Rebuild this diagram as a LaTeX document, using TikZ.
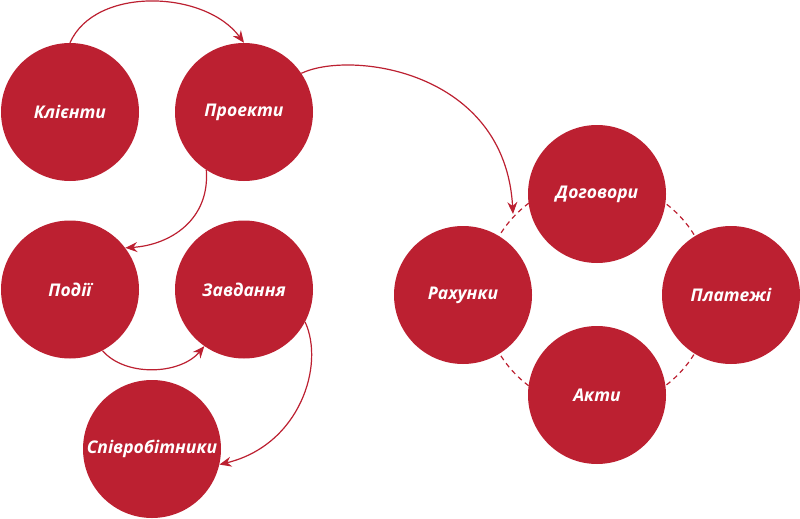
\documentclass[tikz,border=0pt]{standalone}
\usepackage{fontspec}
\newfontfamily\bubblefont{Open Sans}
\usetikzlibrary{arrows.meta}
\definecolor{myred}{RGB}{188,32,49}
\tikzset{
  bubble/.style={circle, fill=myred, draw=none, minimum size=138pt, inner sep=0pt,
    text=white, font=\bubblefont\bfseries\itshape\fontsize{17.5}{20}\selectfont},
  link/.style={draw=myred, line width=1.2pt, -{Stealth[length=12pt,width=10pt,inset=4pt]}},
  ring/.style={draw=myred, line width=1.2pt, dash pattern=on 5pt off 4pt}
}
\begin{document}
\begin{tikzpicture}[x=1pt,y=1pt]
\useasboundingbox (0,0) rectangle (800,-519);
\coordinate (rc) at (597,-294.5);
\draw[ring] (rc) circle (114);
\node[bubble] (kl) at (70,-112) {Клієнти};
\node[bubble] (pr) at (244,-112) {Проекти};
\node[bubble] (po) at (70,-289.5) {Події};
\node[bubble] (za) at (244,-289.5) {Завдання};
\node[bubble] (sp) at (152,-449) {Співробітники};
\node[bubble] (dg) at (597,-194) {Договори};
\node[bubble] (ra) at (463,-295) {Рахунки};
\node[bubble] (pl) at (731,-295) {Платежі};
\node[bubble] (ak) at (597,-395) {Акти};
\coordinate (c2) at (513,-214);
\draw[link] (kl.north) .. controls (95,14) and (205,10) .. (pr.north);
\draw[link] (pr.34) .. controls (350,-50) and (505,-70) .. (c2);
\draw[link] (pr.237) .. controls (210,-220) and (170,-245) .. (po.37);
\draw[link] (po.-62) .. controls (125,-377) and (180,-375) .. (za.-125);
\draw[link] (za.-28) .. controls (325,-365) and (300,-445) .. (sp.-13);
\end{tikzpicture}
\end{document}
